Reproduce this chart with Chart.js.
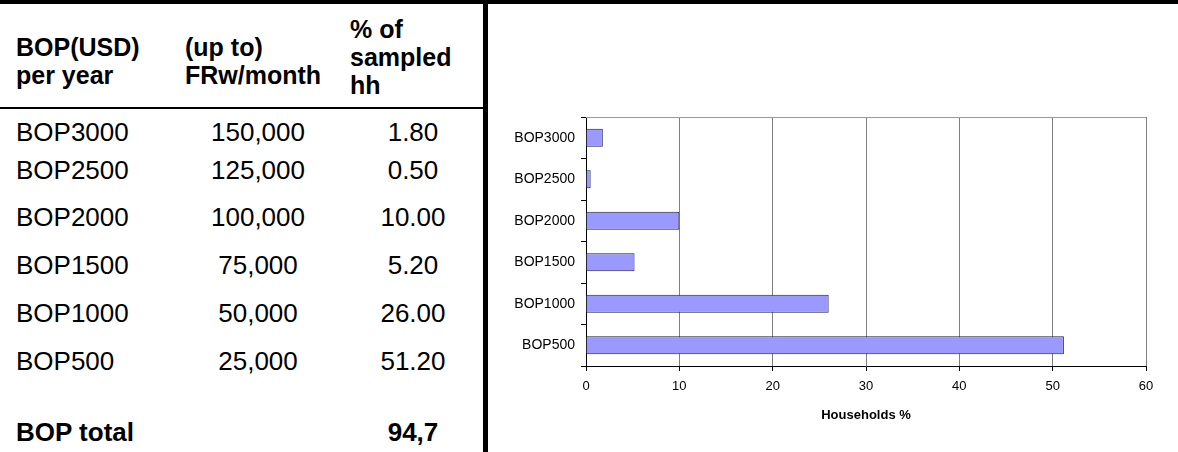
<!DOCTYPE html>
<html>
<head>
<meta charset="utf-8">
<script src="https://cdn.jsdelivr.net/npm/chart.js@4/dist/chart.umd.min.js"></script>
<style>
  html, body { margin: 0; padding: 0; background: #fff; }
  body { width: 1178px; height: 452px; position: relative; overflow: hidden;
         font-family: "Liberation Sans", Arial, sans-serif; color: #000; }
  #topRule { position: absolute; left: 0; top: 0; width: 1178px; height: 4px; background: #000; }
  #vRule { position: absolute; left: 483px; top: 0; width: 5px; height: 452px; background: #000; }
  #bopTable { position: absolute; left: 0; top: 4px; width: 483px;
              border-collapse: collapse; table-layout: fixed; }
  #bopTable td, #bopTable th { padding: 0; vertical-align: top; white-space: nowrap; }
  #bopTable thead tr { height: 104px; }
  #bopTable thead th { font-size: 25px; font-weight: bold; line-height: 28px; text-align: left;
                       border-bottom: 2px solid #000; }
  #bopTable tbody td { font-size: 26px; line-height: 30px; padding-top: 8px; }
  .c1 { padding-left: 16px !important; }
  .c2 { text-align: center; padding-left: 1px !important; }
  .c3 { text-align: center; padding-left: 3px !important; }
  th.c2 { text-align: left; padding-left: 10px !important; }
  th.c3 { text-align: left; padding-left: 10px !important; }
  .total td { font-weight: bold; }
  #chartBox { position: absolute; left: 490px; top: 0; width: 688px; height: 452px; }
</style>
</head>
<body>
<div id="topRule"></div>
<div id="vRule"></div>

<table id="bopTable">
  <colgroup>
    <col style="width:175px">
    <col style="width:165px">
    <col style="width:143px">
  </colgroup>
  <thead>
    <tr>
      <th class="c1" style="padding-top:29px">BOP(USD)<br>per year</th>
      <th class="c2" style="padding-top:29px">(up to)<br>FRw/month</th>
      <th class="c3" style="padding-top:11px">% of<br>sampled<br>hh</th>
    </tr>
  </thead>
  <tbody id="bopRows"></tbody>
</table>

<div id="chartBox"><canvas id="bopChart" width="688" height="452"></canvas></div>

<script>
// income brackets, top row first
var categories = ['BOP3000', 'BOP2500', 'BOP2000', 'BOP1500', 'BOP1000', 'BOP500'];
var frwPerMonth = ['150,000', '125,000', '100,000', '75,000', '50,000', '25,000'];
var householdPct = [1.8, 0.5, 10, 5.2, 26, 51.2];
var totalLabel = '94,7';

var xMin = 0;
var xMax = 60;
var xStep = 10;

// row heights follow the spacing of the printed table
var rowHeights = [39, 47, 48, 48, 48, 71];

var tbody = document.getElementById('bopRows');
categories.forEach(function (cat, i) {
    var tr = document.createElement('tr');
    tr.style.height = rowHeights[i] + 'px';
    tr.innerHTML = '<td class="c1">' + cat + '</td>' +
                   '<td class="c2">' + frwPerMonth[i] + '</td>' +
                   '<td class="c3">' + householdPct[i].toFixed(2) + '</td>';
    tbody.appendChild(tr);
});
var totalRow = document.createElement('tr');
totalRow.className = 'total';
totalRow.style.height = '40px';
totalRow.innerHTML = '<td class="c1">BOP total</td><td class="c2"></td><td class="c3">' + totalLabel + '</td>';
tbody.appendChild(totalRow);

Chart.defaults.font.family = '"Liberation Sans", Arial, sans-serif';
Chart.defaults.color = '#000';

// thin grey frame line along the top of the plot
var topBorder = {
    id: 'topBorder',
    beforeDatasetsDraw: function (chart) {
        var a = chart.chartArea;
        var ctx = chart.ctx;
        ctx.save();
        ctx.strokeStyle = '#999999';
        ctx.lineWidth = 1;
        ctx.beginPath();
        ctx.moveTo(a.left, a.top + 0.5);
        ctx.lineTo(a.right, a.top + 0.5);
        ctx.stroke();
        ctx.restore();
    }
};

var ctx = document.getElementById('bopChart').getContext('2d');
var bopChart = new Chart(ctx, {
    type: 'bar',
    data: {
        labels: categories,
        datasets: [{
            label: 'Households %',
            data: householdPct,
            backgroundColor: '#9999FF',
            borderColor: '#1c1c40',
            borderWidth: 1,
            categoryPercentage: 0.43,
            barPercentage: 1
        }]
    },
    options: {
        indexAxis: 'y',
        responsive: false,
        animation: false,
        layout: {
            padding: { top: 117, right: 32, left: 0, bottom: 0 }
        },
        scales: {
            x: {
                min: xMin,
                max: xMax,
                ticks: {
                    stepSize: xStep,
                    font: { size: 13 },
                    color: '#000',
                    padding: 8,
                    maxRotation: 0
                },
                grid: {
                    color: '#808080',
                    tickColor: '#000',
                    tickLength: 5
                },
                border: { color: '#000', width: 1 },
                title: {
                    display: true,
                    text: 'Households %',
                    font: { size: 13, weight: 'bold' },
                    color: '#000',
                    padding: { top: 0, bottom: 29 }
                },
                afterFit: function (scale) { scale.height = 86; }
            },
            y: {
                ticks: {
                    font: { size: 14 },
                    color: '#000',
                    padding: 6
                },
                grid: {
                    drawOnChartArea: false,
                    color: '#000',
                    tickLength: 5
                },
                border: { color: '#000', width: 1 },
                afterFit: function (scale) { scale.width = 96; }
            }
        },
        plugins: {
            legend: { display: false },
            tooltip: { enabled: false },
            title: { display: false }
        }
    },
    plugins: [topBorder]
});
</script>
</body>
</html>
